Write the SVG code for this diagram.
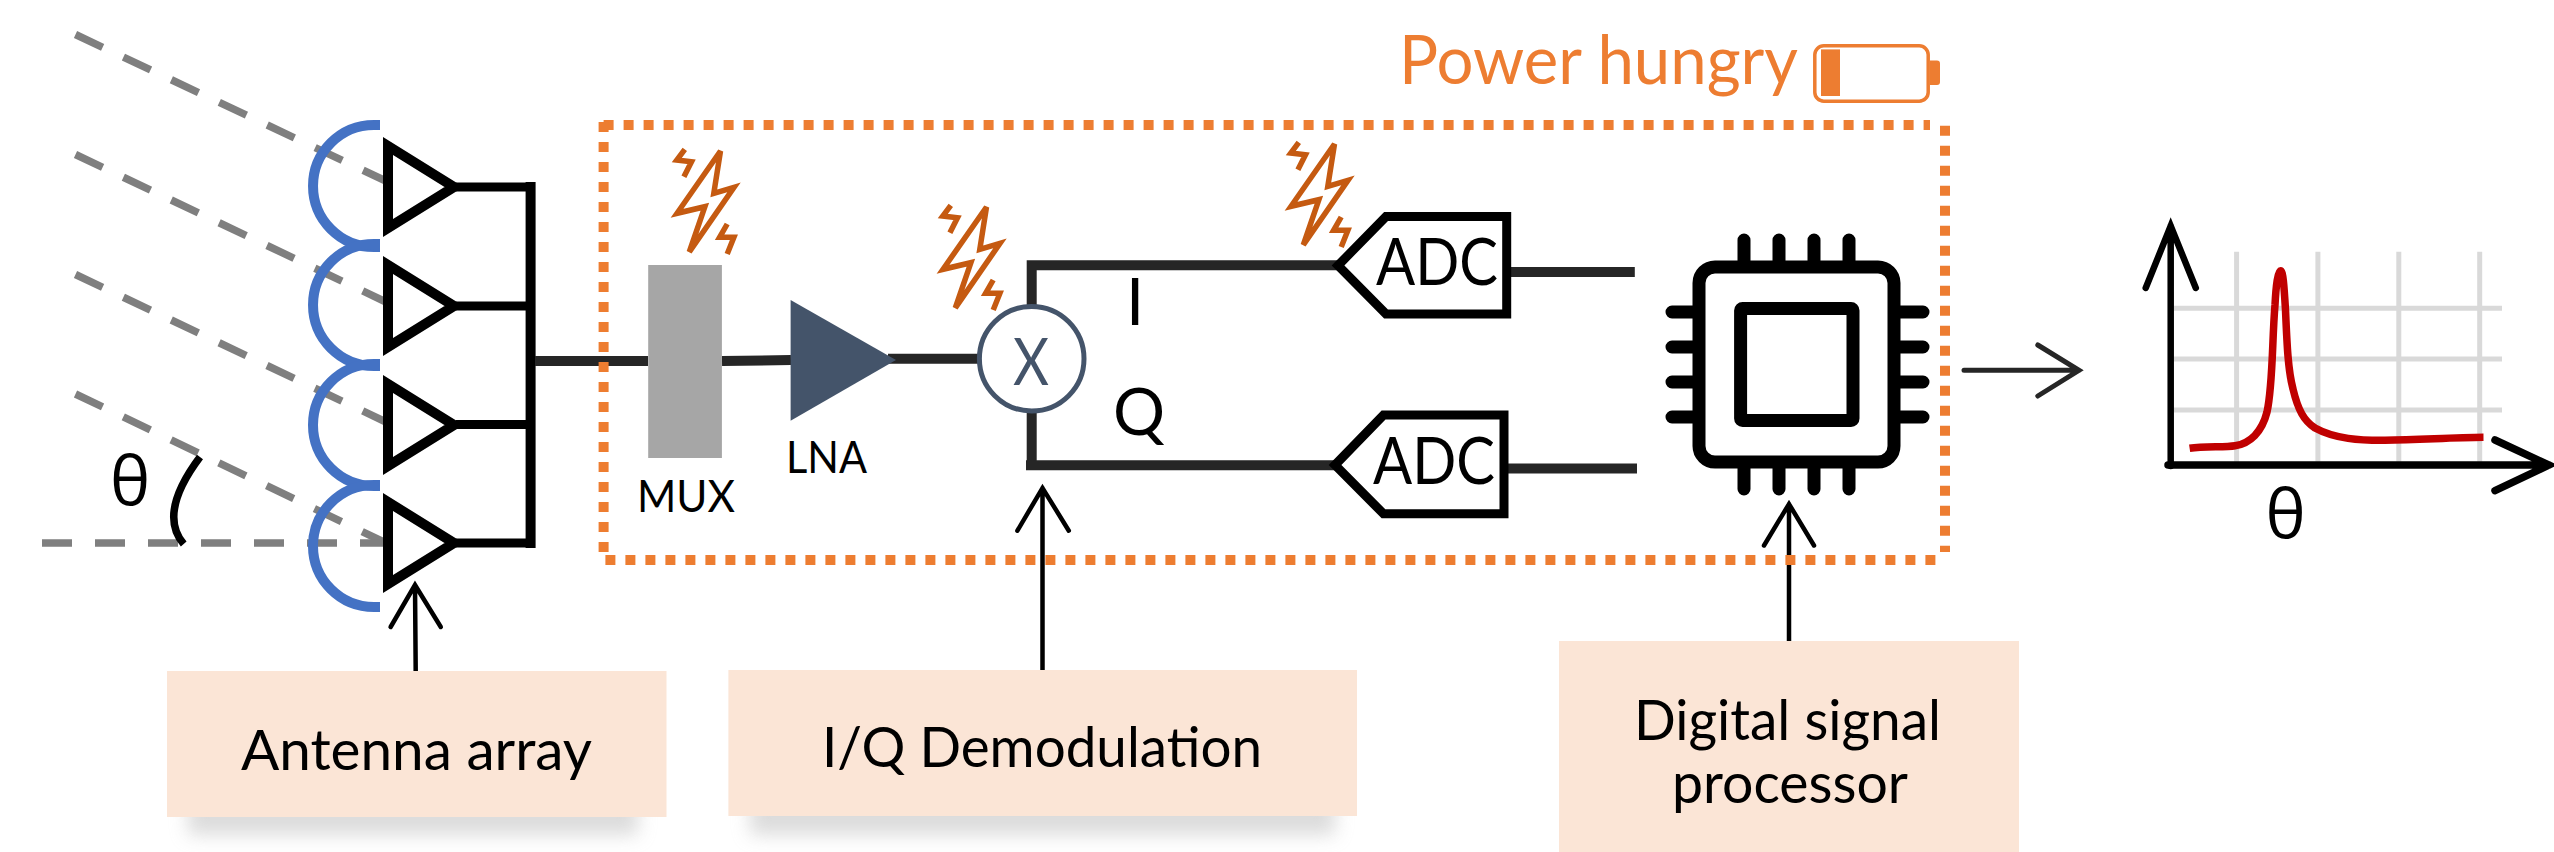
<svg xmlns="http://www.w3.org/2000/svg" width="2554" height="852" viewBox="0 0 2554 852">
<style>
text{font-family:"Lato","Open Sans","Liberation Sans",sans-serif;fill:#000}
.ray{fill:none;stroke:#7f7f7f;stroke-width:7.5;stroke-dasharray:30 23}
.ant{fill:none;stroke:#4472c4;stroke-width:10}
.amp{fill:#fff;stroke:#000;stroke-width:10;stroke-miterlimit:10}
.w9{fill:none;stroke:#000;stroke-width:9}
.wire{fill:none;stroke:#262626;stroke-width:10}
.dot{fill:none;stroke:#ed7d31;stroke-width:10;stroke-dasharray:10 10}
.arr{fill:none;stroke:#000;stroke-width:4.5;stroke-linecap:round}
.box{fill:#fbe5d6}
.bolt{fill:none;stroke:#c55a11;stroke-width:5.5;stroke-linejoin:miter}
.adc{fill:#fff;stroke:#000;stroke-width:9}
.chip{fill:none;stroke:#000;stroke-width:13}
.pin{fill:none;stroke:#000;stroke-width:13;stroke-linecap:round}
.grid{fill:none;stroke:#d9d9d9;stroke-width:5}
.theta{font-family:"Open Sans","DejaVu Sans",sans-serif;font-size:68px;text-anchor:middle}
.lab{font-size:56px}
</style>
<defs>
<filter id="blur" x="-20%" y="-40%" width="140%" height="180%"><feGaussianBlur stdDeviation="9"/></filter>
<g id="boltIcon">
<path class="bolt" d="M47.5,3 4,65.3 31.9,58.7 16.3,104 61,39.3 40.8,45.3Z"/>
<path class="bolt" d="M11.8,1.3 3.8,12 18.500,13.700 10.900,28.700M54.200,76 46.600,89.300 60.900,89.300 54.200,106"/>
</g>
</defs>
<g id="rays">
<path class="ray" d="M75.5,34.5 388,182"/>
<path class="ray" d="M75.5,154.5 388,303"/>
<path class="ray" d="M75.5,274.5 388,423"/>
<path class="ray" d="M75.5,394 388,544"/>
<path class="ray" d="M42,543H388"/>
</g>
<g id="theta-angle">
<text class="theta" x="130" y="505">θ</text>
<path d="M200,457Q157.6,513.5 183.7,544" fill="none" stroke="#000" stroke-width="7.500"/>
</g>
<g id="antenna-array">
<path class="ant" d="M380,125H374A61,61 0 0 0 374,247H380"/>
<path class="ant" d="M380,244H374A61,61 0 0 0 374,366H380"/>
<path class="ant" d="M380,364H374A61,61 0 0 0 374,486H380"/>
<path class="ant" d="M380,485H374A61,61 0 0 0 374,607H380"/>
<path class="amp" d="M388,146 454,187 388,228Z"/>
<path class="amp" d="M388,265 454,306 388,347Z"/>
<path class="amp" d="M388,384 454,425 388,466Z"/>
<path class="amp" d="M388,502 454,543 388,584Z"/>
<path class="w9" d="M456,187H535M456,306H531M456,424.5H531M456,543H535"/>
<path d="M530.6,182V548" fill="none" stroke="#000" stroke-width="10"/>
</g>
<g id="connectors">
<path class="wire" d="M535,361H648M722,361 791,360M888,358.7H980"/>
<path class="wire" d="M1031.7,306V265.3M1026.7,265.3H1340"/>
<path class="wire" d="M1031.7,411V465.3M1026,465.3H1335"/>
<path class="wire" d="M1504.5,272H1634.8M1507.6,468.4H1637"/>
<path class="arr" d="M415.7,671 415,585M390.6,627 415,585 440.8,627"/>
<path class="arr" d="M1042.5,670V488M1017.4,530.7 1042.5,488 1068.8,530.7"/>
<path class="arr" d="M1789,641V504M1764,545.5 1789,504 1814,545.5"/>
<path d="M1964,370.3H2079M2037.8,345 2079,370.3 2037.8,396" fill="none" stroke="#262626" stroke-width="5" stroke-linecap="round"/>
</g>
<g id="power-boundary">
<path class="dot" d="M603.6,125H1930"/>
<path class="dot" d="M1945,125.7V552"/>
<path class="dot" d="M605.4,560H1936"/>
<path class="dot" d="M603.6,122V552"/>
</g>
<g id="power-label">
<text x="1399" y="84" style="fill:#ed7d31;font-size:67px" textLength="399" lengthAdjust="spacingAndGlyphs">Power hungry</text>
<rect x="1814.8" y="45.8" width="113.4" height="55.4" rx="9" fill="none" stroke="#ed7d31" stroke-width="3.5"/>
<rect x="1821" y="49.4" width="19" height="46.6" fill="#ed7d31"/>
<path d="M1930,60.5h7a3,3 0 0 1 3,3v18.500a3,3 0 0 1 -3,3h-7Z" fill="#ed7d31"/>
</g>
<g id="bolts">
<use href="#boltIcon" x="673" y="148"/>
<use href="#boltIcon" x="939" y="204"/>
<use href="#boltIcon" x="1287" y="141"/>
</g>
<g id="mux">
<rect x="648.200" y="265" width="73.700" height="193" fill="#a6a6a6"/>
<text x="637" y="512" style="font-size:44px" textLength="98" lengthAdjust="spacingAndGlyphs">MUX</text>
</g>
<g id="lna">
<path d="M790.600,300 896,360 790.600,420.700Z" fill="#44546a"/>
<text x="786" y="473" style="font-size:44px" textLength="81" lengthAdjust="spacingAndGlyphs">LNA</text>
</g>
<g id="mixer">
<circle cx="1031.700" cy="358.700" r="52.300" fill="#fff" stroke="#44546a" stroke-width="5"/>
<text x="1013" y="385" style="font-size:65px;fill:#44546a" textLength="36" lengthAdjust="spacingAndGlyphs">X</text>
</g>
<g id="iq-labels">
<text x="1135" y="325" style="font-size:65px" text-anchor="middle">I</text>
<text x="1139" y="435" style="font-size:65px" text-anchor="middle">Q</text>
</g>
<g id="adc-i">
<path class="adc" d="M1338,265.500 1386,216.600H1506.700V314H1386Z"/>
<text x="1376" y="285" style="font-size:65px" textLength="122" lengthAdjust="spacingAndGlyphs">ADC</text>
</g>
<g id="adc-q">
<path class="adc" d="M1335,465 1383.500,415H1504V513.800H1383.500Z"/>
<text x="1373" y="484" style="font-size:65px" textLength="122" lengthAdjust="spacingAndGlyphs">ADC</text>
</g>
<g id="dsp-chip">
<path class="pin" d="M1744,240V262M1779,240V262M1814,240V262M1849,240V262M1744,467V489M1779,467V489M1814,467V489M1849,467V489M1672,312H1695M1672,347H1695M1672,382H1695M1672,417H1695M1898,312H1923M1898,347H1923M1898,382H1923M1898,417H1923"/>
<rect class="chip" x="1699" y="267" width="195" height="195" rx="16" style="fill:#fff"/>
<rect class="chip" x="1740.600" y="308.500" width="112.400" height="112" rx="2" stroke-linejoin="round"/>
</g>
<g id="plot">
<path class="grid" d="M2236.600,251.700V461.700M2317.900,251.700V461.700M2398.800,251.700V461.700M2479.700,251.700V461.700M2174,308.300H2502M2174,359H2502M2174,410H2502"/>
<path d="M2189.600,448.300C2205,446 2225,447.500 2235,445.700C2250,443.500 2262,432 2267,412C2273,385 2272,340 2275,305C2276,285 2278,270.700 2280.500,270.700C2283,270.700 2284,285 2285.500,310C2287,345 2288,370 2293,389C2298,410 2304,421 2315,428C2335,439 2360,440.500 2385,440.300C2420,440 2450,437.500 2483.500,437.300" fill="none" stroke="#c00000" stroke-width="7.500"/>
<path d="M2170.700,466V226M2145.700,288 2170.700,226 2195.800,288" fill="none" stroke="#000" stroke-width="6.500" stroke-linecap="round"/>
<path d="M2168,465H2549M2495,440 2549,465 2495,490.700" fill="none" stroke="#000" stroke-width="7.500" stroke-linecap="round"/>
<text class="theta" x="2285.600" y="538">θ</text>
</g>
<g id="label-antenna">
<rect x="188" y="700" width="450" height="135" fill="#bfbfbf" opacity=".55" filter="url(#blur)"/>
<rect class="box" x="167" y="671" width="499.500" height="146"/>
<text class="lab" x="241" y="770" textLength="351" lengthAdjust="spacingAndGlyphs">Antenna array</text>
</g>
<g id="label-iq">
<rect x="750" y="700" width="585" height="135" fill="#bfbfbf" opacity=".55" filter="url(#blur)"/>
<rect class="box" x="728.400" y="670" width="628.600" height="146"/>
<text class="lab" x="822" y="767" textLength="440" lengthAdjust="spacingAndGlyphs">I/Q Demodulation</text>
</g>
<g id="label-dsp">
<rect class="box" x="1559" y="641" width="460" height="211"/>
<text class="lab" x="1634" y="740" textLength="307" lengthAdjust="spacingAndGlyphs">Digital signal</text>
<text class="lab" x="1672" y="802.700" textLength="236" lengthAdjust="spacingAndGlyphs">processor</text>
</g>
</svg>
